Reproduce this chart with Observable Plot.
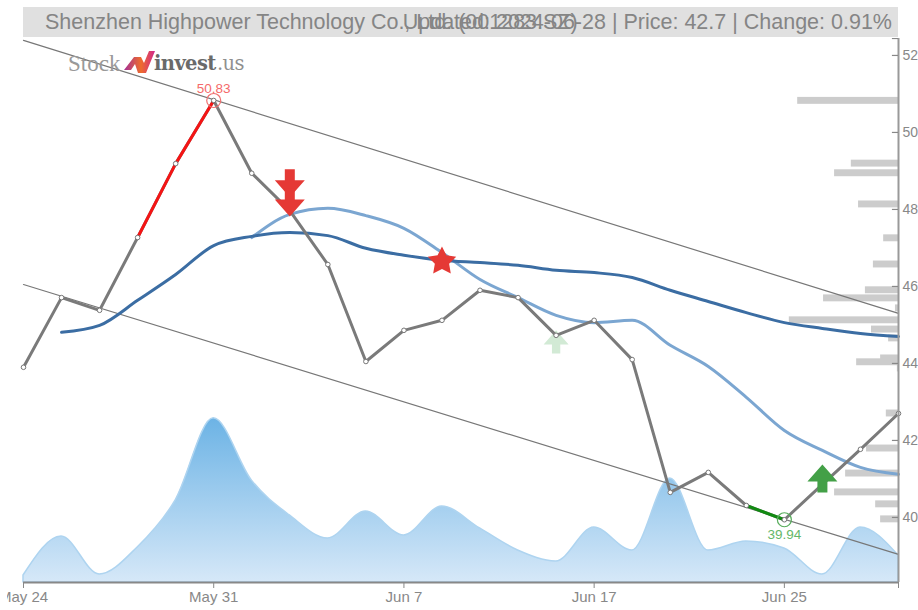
<!DOCTYPE html>
<html>
<head>
<meta charset="utf-8">
<script src="https://cdn.jsdelivr.net/npm/d3@7"></script>
<script src="https://cdn.jsdelivr.net/npm/@observablehq/plot@0.6"></script>
<style>
html,body{margin:0;padding:0;background:#fff;width:918px;height:610px;overflow:hidden;font-family:"Liberation Sans",sans-serif}
#wrap{position:relative;width:918px;height:610px}
#band{position:absolute;left:23px;top:7px;width:875px;height:30px;background:#e0e0e0;color:#858585;font-size:21.5px;line-height:31px}
#band .l{position:absolute;left:22px;top:0;white-space:nowrap}
#band .r{position:absolute;right:6px;top:0;white-space:nowrap}
#chart{position:absolute;left:7px;top:38px}
#logo{position:absolute;left:68px;top:50px;width:180px;height:28px}
#logo span{position:absolute;top:1px;white-space:nowrap}
</style>
</head>
<body>
<div id="wrap">
  <div id="chart"></div>
  <div id="band"><span class="l">Shenzhen Highpower Technology Co., Ltd. (001283.SZ)</span><span class="r">Updated: 2024-06-28 | Price: 42.7 | Change: 0.91%</span></div>
  <div id="logo">
    <span style="left:0;font:23px 'Liberation Serif',serif;color:#999">Stock</span>
    <svg width="40" height="28" style="position:absolute;left:54px;top:-2px">
      <defs><linearGradient id="lg" x1="0" x2="1" y1="0" y2="0"><stop offset="0" stop-color="#a52f96"/><stop offset="0.55" stop-color="#ee6c2c"/><stop offset="1" stop-color="#d1278c"/></linearGradient></defs>
      <path d="M2 22 L12 9 L19 9 L22 15 L27 3 L33 3 L24 25 L16 25 L13 16 L9 22 Z" fill="url(#lg)"/>
    </svg>
    <span style="left:86px;top:2px;font:bold 19.5px 'DejaVu Serif',serif;color:#6a6a6a;letter-spacing:-0.6px">invest</span>
    <span style="left:149px;top:2px;font:19.5px 'DejaVu Serif',serif;color:#8f8f8f;letter-spacing:-0.6px">.us</span>
  </div>
</div>
<script>
const dayIndex = d3.range(24);
const tickIndex = [0, 5, 10, 15, 20, 23];
const tickNames = {0: "May 24", 5: "May 31", 10: "Jun 7", 15: "Jun 17", 20: "Jun 25", 23: ""};
const price = [43.90,45.71,45.38,47.27,49.19,50.83,48.94,47.97,46.57,44.05,44.86,45.12,45.90,45.71,44.73,45.12,44.10,40.65,41.17,40.31,39.94,40.86,41.77,42.70];
const maSlow = [null,44.81,44.99,45.64,46.31,47.06,47.30,47.40,47.32,46.99,46.81,46.68,46.62,46.55,46.42,46.36,46.23,45.90,45.61,45.32,45.06,44.91,44.78,44.70];
const maFast = [null,null,null,null,null,null,47.27,47.87,48.03,47.84,47.51,46.88,46.18,45.71,45.25,45.06,45.12,44.47,43.92,43.12,42.26,41.74,41.30,41.12];
const volume = [0.7,4.6,0.8,3.5,8.2,16.4,10.2,6.7,4.4,7.1,4.7,7.6,5.4,3.2,2.1,5.5,3.2,10.4,3.2,4.1,3.4,0.8,5.5,2.7];
const profileLevel = [50.82,49.19,48.94,48.13,47.25,46.57,45.90,45.69,45.43,45.12,44.88,44.65,44.13,44.03,43.87,42.70,41.79,41.14,40.65,40.34,39.95];
const profileSize = [2.65,1.24,1.68,1.05,0.39,0.66,0.87,1.97,0.08,2.87,0.71,0.26,0.47,1.10,0.03,0.32,0.84,1.39,1.68,0.60,0.47];
const channelUpper = [{i:0,v:52.39},{i:23,v:45.30}];
const channelLower = [{i:0,v:46.05},{i:23,v:39.04}];
const priceTicks = [40,42,44,46,48,50,52];
const yMin = 38.31, yMax = 52.44, volUnit = 0.26;
const sellArrows = [{i:7,v:48.68},{i:7,v:48.18}];
const buyStrong = [{i:21,v:41.01}];
const buyWeak = [{i:14,v:44.56}];
const starMark = [{i:11,v:46.65}];
const extremes = [
  {i:5, v:50.83, color:"#ee6f6f", text:"#f56a6a", dy:-1},
  {i:20, v:39.94, color:"#58ad5c", text:"#64b868", dy:1}
];

const days = dayIndex.map(i => ({i, price: price[i], slow: maSlow[i], fast: maFast[i], vol: volume[i]}));
const profile = profileLevel.map((l, k) => ({l, s: profileSize[k]}));

function arrow(dir) {
  return {draw(c, size) {
    const k = Math.sqrt(size / Math.PI) / 15, p = (x, y) => [x * k, y * k * dir];
    const pts = [p(0,-14), p(15,3), p(5,3), p(5,14), p(-5,14), p(-5,3), p(-15,3)];
    c.moveTo(...pts[0]);
    for (const q of pts.slice(1)) c.lineTo(...q);
    c.closePath();
  }};
}
const fatStar = {draw(c, size) {
  const R = Math.sqrt(size / Math.PI), r = R * 0.5;
  for (let n = 0; n < 10; n++) {
    const a = -Math.PI / 2 + n * Math.PI / 5, q = n % 2 ? r : R;
    const x = Math.cos(a) * q, y = Math.sin(a) * q;
    if (n) c.lineTo(x, y); else c.moveTo(x, y);
  }
  c.closePath();
}};
const defs = () => {
  const d = d3.create("svg:defs");
  const g = d.append("linearGradient").attr("id","volGrad").attr("x1",0).attr("x2",0).attr("y1",0).attr("y2",1);
  g.append("stop").attr("offset","0").attr("stop-color","#6cb3e5");
  g.append("stop").attr("offset","1").attr("stop-color","#d6e8f8");
  return d.node();
};
const curve = "monotone-x";
const chart = Plot.plot({
  width: 911, height: 572,
  marginLeft: 16, marginRight: 20, marginTop: 0, marginBottom: 28,
  style: {fontFamily: "'Liberation Sans',sans-serif", fontSize: "14px", overflow: "hidden", background: "transparent"},
  x: {type: "linear", domain: [0, 23]},
  y: {type: "linear", domain: [yMin, yMax]},
  marks: [
    defs,
    Plot.area(days, {x1: "i", y1: () => yMin, y2: d => yMin + d.vol * volUnit, curve, fill: "url(#volGrad)", stroke: "#aed4f0", strokeWidth: 1.5}),
    Plot.rect(profile, {x1: d => 23 - d.s, x2: () => 23, y1: d => d.l - 0.09, y2: d => d.l + 0.09, fill: "#cccccc"}),
    Plot.line(channelUpper, {x: "i", y: "v", stroke: "#777", strokeWidth: 1.2}),
    Plot.line(channelLower, {x: "i", y: "v", stroke: "#777", strokeWidth: 1.2}),
    Plot.dot(buyWeak, {x: "i", y: "v", r: 12.5, symbol: arrow(1), fill: "#d2ead5"}),
    Plot.line(days.filter(d => d.fast != null), {x: "i", y: "fast", curve, stroke: "#7ba6d1", strokeWidth: 3}),
    Plot.line(days.filter(d => d.slow != null), {x: "i", y: "slow", curve, stroke: "#3b6da3", strokeWidth: 3}),
    Plot.line(days, {x: "i", y: "price", stroke: "#7a7a7a", strokeWidth: 3}),
    Plot.line(days.filter(d => d.i >= 3 && d.i <= 5), {x: "i", y: "price", stroke: "#f41414", strokeWidth: 3}),
    Plot.line(days.filter(d => d.i >= 19 && d.i <= 20), {x: "i", y: "price", stroke: "#118a11", strokeWidth: 3}),
    Plot.dot(days, {x: "i", y: "price", r: 2.3, fill: "#fff", stroke: "#777", strokeWidth: 1}),
    Plot.dot(extremes, {x: "i", y: "v", r: 7, fill: "none", stroke: d => d.color, strokeWidth: 1.2}),
    Plot.text(extremes.filter(d => d.dy < 0), {x: "i", y: "v", text: d => d.v.toFixed(2), fill: d => d.text, fontSize: 13.5, dy: -12}),
    Plot.text(extremes.filter(d => d.dy > 0), {x: "i", y: "v", text: d => d.v.toFixed(2), fill: d => d.text, fontSize: 13.5, dy: 15}),
    Plot.dot(sellArrows, {x: "i", y: "v", r: 15, symbol: arrow(-1), fill: "#e53935"}),
    Plot.dot(buyStrong, {x: "i", y: "v", r: 15, symbol: arrow(1), fill: "#43a047"}),
    Plot.dot(starMark, {x: "i", y: "v", r: 15, symbol: fatStar, fill: "#e53935"}),
    Plot.ruleY([yMin], {stroke: "#888", strokeWidth: 2}),
    Plot.ruleX([23], {stroke: "#999", strokeWidth: 2}),
    Plot.ruleY(priceTicks.concat([yMax]), {x1: () => 22.84, x2: () => 23, stroke: "#888", strokeWidth: 1.2}),
    Plot.axisY({anchor: "right", ticks: priceTicks, tickSize: 0, tickPadding: 4, color: "#888", label: null, tickFormat: d => d}),
    Plot.axisX({ticks: tickIndex, tickSize: 6, tickPadding: 3, fontSize: 15, color: "#888", label: null, tickFormat: d => tickNames[d]})
  ]
});
document.getElementById("chart").appendChild(chart);
</script>
</body>
</html>
